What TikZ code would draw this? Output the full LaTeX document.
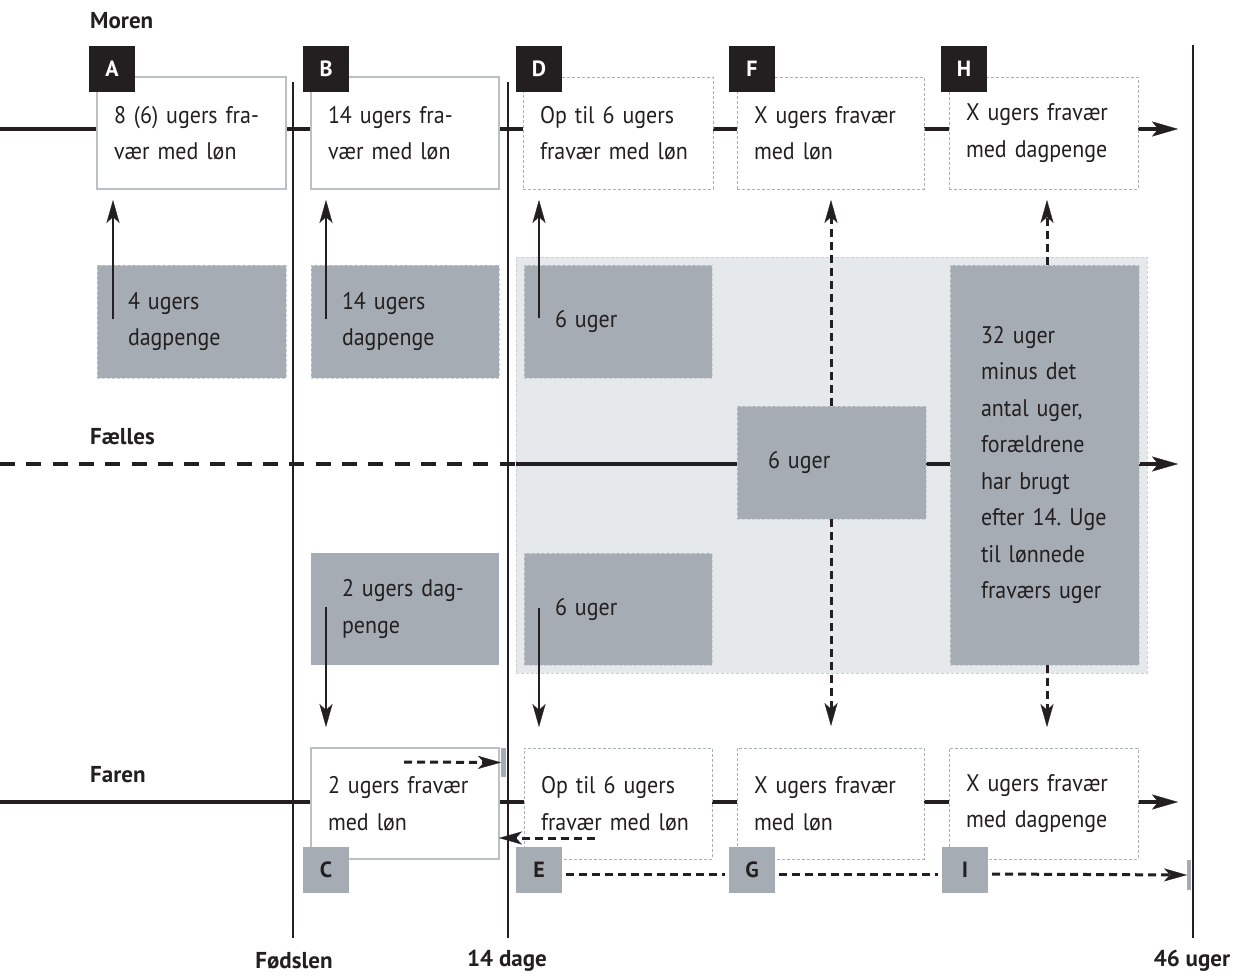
\documentclass[tikz,border=0pt]{standalone}
\usepackage{fontspec}
\setmainfont{PT Sans}
\newfontfamily\bodyfont{PT Sans}[FakeStretch=0.915]
\usetikzlibrary{arrows.meta}
\definecolor{ink}{HTML}{231F20}
\definecolor{boxline}{HTML}{B9C1C7}
\definecolor{dashline}{HTML}{A8AFB5}
\definecolor{gfill}{HTML}{A5ACB3}
\definecolor{regfill}{HTML}{E6E9EC}
\definecolor{dotline}{HTML}{CDD2D6}
\tikzset{
  txt/.style={font=\bodyfont\fontsize{24}{36.5}\selectfont, text=ink},
  base/.style={anchor=north west, outer sep=0pt, inner ysep=0pt, align=left, txt},
  wbox/.style={base, draw=boxline, line width=1.3pt, fill=white, inner xsep=17pt},
  dbox/.style={base, draw=dashline, line width=0.9pt, dash pattern=on 3pt off 2pt, fill=white, inner xsep=17pt},
  gbox/.style={base, fill=gfill, draw=dotline, line width=0.9pt, dash pattern=on 3pt off 2pt, inner xsep=31pt},
  gboxplain/.style={base, fill=gfill, inner xsep=31pt},
  tagdark/.style={anchor=north west, outer sep=0pt, minimum size=46pt, inner sep=0pt, fill=ink, text=white, font=\fontsize{22}{22}\bfseries\selectfont},
  taggray/.style={tagdark, fill=gfill, text=ink},
  bl/.style={text=ink, font=\fontsize{23}{23}\bfseries\selectfont, inner sep=0pt},
  mainline/.style={draw=ink, line width=4.3pt},
  bigtip/.style={-{Stealth[length=26pt,width=15pt,inset=6pt,line width=0.3pt]}},
  vline/.style={draw=ink, line width=2.6pt},
  sarrow/.style={draw=ink, line width=2.6pt, -{Stealth[length=23pt,width=13pt,inset=6pt,line width=0.3pt]}},
  darrow/.style={draw=ink, line width=3pt, dash pattern=on 8pt off 5pt, -{Stealth[length=23pt,width=13pt,inset=6pt,line width=0.3pt]}},
  dline/.style={draw=ink, line width=3pt, dash pattern=on 8pt off 5pt},
  bar/.style={anchor=north west, outer sep=0pt, inner sep=0pt, fill=gfill}
}
\begin{document}
\begin{tikzpicture}[x=1pt,y=-1pt]
\useasboundingbox (0,0) rectangle (1235,976);
% shared region
\node[anchor=north west, outer sep=0pt, inner sep=0pt, minimum width=631pt, minimum height=416pt, fill=regfill, draw=dotline, line width=0.9pt, dash pattern=on 3pt off 2pt] (reg) at (516,257) {};
% coordinates for lines
\coordinate (mL) at (0,129);   \coordinate (mR) at (1178,129);
\coordinate (fL) at (0,464);   \coordinate (fM) at (516,464); \coordinate (fR) at (1178,464);
\coordinate (pL) at (0,802);   \coordinate (pR) at (1178,802);
\coordinate (v1t) at (293,82);  \coordinate (v1b) at (293,938);
\coordinate (v2t) at (508,82);  \coordinate (v2b) at (508,938);
\coordinate (v3t) at (1193,45); \coordinate (v3b) at (1193,938);
% timelines
\draw[mainline,bigtip] (mL) -- (mR);
\draw[mainline, dash pattern=on 15pt off 11.3pt] (fL) -- (fM);
\draw[mainline,bigtip] (fM) -- (fR);
\draw[mainline,bigtip] (pL) -- (pR);
\draw[vline] (v1t) -- (v1b);
\draw[vline] (v2t) -- (v2b);
\draw[vline] (v3t) -- (v3b);
% labels
\node[bl, anchor=west] (moren) at (90,21) {Moren};
\node[bl, anchor=west] (faelles) at (90,437) {Fælles};
\node[bl, anchor=west] (faren) at (90,775) {Faren};
\node[bl] (fod) at (294,961) {Fødslen};
\node[bl] (d14) at (507,961) {14 dage};
\node[bl] (u46) at (1192,961) {46 uger};
% Moren boxes
\node[wbox, minimum width=189pt, minimum height=112pt, text width=155pt] (boxA) at (97,77) {8~(6)~ugers~fra-\\vær~med~løn};
\node[wbox, minimum width=188pt, minimum height=112pt, text width=154pt] (boxB) at (311,77) {14~ugers~fra-\\vær~med~løn};
\node[dbox, minimum width=190pt, minimum height=112pt, text width=156pt] (boxD) at (523,77) {Op~til~6~ugers\\fravær~med~løn};
\node[dbox, minimum width=187pt, minimum height=112pt, text width=153pt] (boxF) at (737,77) {X~ugers~fravær\\med~løn};
\node[dbox, minimum width=189pt, minimum height=112pt, text width=155pt] (boxH) at (949,77) {X~ugers~fravær\\med~dagpenge};
\node[tagdark] (tagA) at (89,46) {A};
\node[tagdark] (tagB) at (303,46) {B};
\node[tagdark] (tagD) at (516,46) {D};
\node[tagdark] (tagF) at (729,46) {F};
\node[tagdark] (tagH) at (941,46) {H};
% gray boxes
\node[gbox, minimum width=189pt, minimum height=113pt, text width=127pt] (dpA) at (97,265) {4~ugers\\dagpenge};
\node[gbox, minimum width=188pt, minimum height=113pt, text width=126pt] (dpB) at (311,265) {14~ugers\\dagpenge};
\node[gbox, minimum width=188pt, minimum height=113pt, text width=126pt] (dpD) at (524,265) {6~uger};
\node[gbox, minimum width=189pt, minimum height=113pt, text width=127pt] (mid) at (737,406) {6~uger};
\node[gbox, minimum width=189pt, minimum height=400pt, text width=127pt] (big) at (950,265) {32~uger\\minus~det\\antal~uger,\\forældrene\\har~brugt\\efter~14.~Uge\\til~lønnede\\fraværs~uger};
\node[gboxplain, minimum width=188pt, minimum height=112pt, text width=126pt] (dpC) at (311,553) {2~ugers~dag-\\penge};
\node[gbox, minimum width=188pt, minimum height=112pt, text width=126pt] (dpE) at (524,553) {6~uger};
% Faren boxes
\node[wbox, minimum width=188pt, minimum height=111pt, text width=154pt] (boxC) at (311,748) {2~ugers~fravær\\med~løn};
\node[dbox, minimum width=188pt, minimum height=111pt, text width=154pt] (boxE) at (524,748) {Op~til~6~ugers\\fravær~med~løn};
\node[dbox, minimum width=187pt, minimum height=111pt, text width=153pt] (boxG) at (737,748) {X~ugers~fravær\\med~løn};
\node[dbox, minimum width=189pt, minimum height=111pt, text width=155pt] (boxI) at (949,748) {X~ugers~fravær\\med~dagpenge};
\node[taggray] (tagC) at (303,847) {C};
\node[taggray] (tagE) at (516,847) {E};
\node[taggray] (tagG) at (729,847) {G};
\node[taggray] (tagI) at (942,847) {I};
% small bars
\node[bar, minimum width=5pt, minimum height=29pt] (barC) at (501,748) {};
\node[bar, minimum width=4pt, minimum height=30pt] (barI) at (1187,860) {};
% solid arrows
\coordinate (aA1) at (113,319); \coordinate (aA2) at (113,200);
\coordinate (aB1) at (326,319); \coordinate (aB2) at (326,200);
\coordinate (aD1) at (539,318); \coordinate (aD2) at (539,200);
\coordinate (aC1) at (326,607); \coordinate (aC2) at (326,727);
\coordinate (aE1) at (539,608); \coordinate (aE2) at (539,727);
\draw[sarrow] (aA1) -- (aA2);
\draw[sarrow] (aB1) -- (aB2);
\draw[sarrow] (aD1) -- (aD2);
\draw[sarrow] (aC1) -- (aC2);
\draw[sarrow] (aE1) -- (aE2);
% dashed arrows
\coordinate (fT) at (831,200); \coordinate (fB) at (831,726);
\coordinate (hT) at (1047,200); \coordinate (hB) at (1047,727);
\draw[darrow] (mid.north -| fT) -- (fT);
\draw[darrow] (mid.south -| fB) -- (fB);
\draw[darrow] (big.north -| hT) -- (hT);
\draw[darrow] (big.south -| hB) -- (hB);
\coordinate (c1) at (404,762); \coordinate (c2) at (595,838);
\draw[darrow] (c1) -- (barC.west);
\draw[darrow] (c2) -- (c2 -| boxC.east);
\draw[dline, shorten <=4pt, shorten >=4pt] ([yshift=-4pt]tagE.east) -- ([yshift=-4pt]tagG.west);
\draw[dline, shorten <=4pt, shorten >=4pt] ([yshift=-4pt]tagG.east) -- ([yshift=-4pt]tagI.west);
\draw[darrow, shorten <=4pt] ([yshift=-4pt]tagI.east) -- (barI.west);
\end{tikzpicture}
\end{document}
